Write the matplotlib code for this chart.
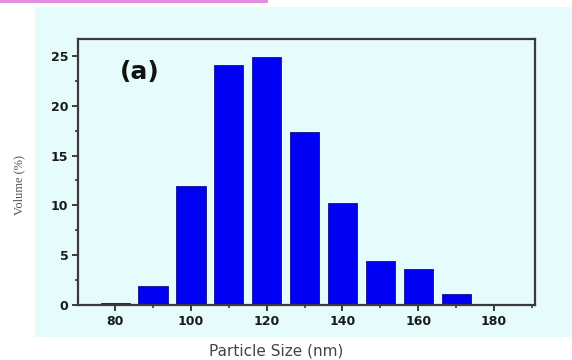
import matplotlib.pyplot as plt
from matplotlib.patches import Rectangle
from matplotlib.ticker import MultipleLocator

# particle size distribution (volume %)
sizes = [80, 90, 100, 110, 120, 130, 140, 150, 160, 170]
volume = [0.2, 1.9, 11.9, 24.1, 24.9, 17.4, 10.2, 4.4, 3.6, 1.1]
xticks = [80, 100, 120, 140, 160, 180]
yticks = [0, 5, 10, 15, 20, 25]

fig = plt.figure(figsize=(5.72, 3.6), dpi=100)
fig.patch.set_facecolor('white')

# light background panel behind the plot
fig.add_artist(Rectangle((35 / 572, 1 - 337 / 360), 1 - 35 / 572, 330 / 360,
                         transform=fig.transFigure, facecolor='#e6fbfb',
                         edgecolor='none', zorder=0))
# pink strip along the top
fig.add_artist(Rectangle((0, 1 - 3 / 360), 268 / 572, 3 / 360,
                         transform=fig.transFigure, facecolor='#e58ee0',
                         edgecolor='none', zorder=0))

ax = fig.add_axes([78 / 572, 1 - 305 / 360, (535 - 78) / 572, (305 - 39) / 360])
ax.set_facecolor('none')

ax.bar(sizes, volume, width=7.7, color='#0000f5', edgecolor='#10108a',
       linewidth=0.6, zorder=2)

ax.set_xlim(70.2, 190.8)
ax.set_ylim(0, 26.7)
ax.set_xticks(xticks)
ax.set_yticks(yticks)
ax.xaxis.set_minor_locator(MultipleLocator(10))
ax.yaxis.set_minor_locator(MultipleLocator(2.5))

for side in ['left', 'right', 'top', 'bottom']:
    ax.spines[side].set_color('#3a3a3a')
    ax.spines[side].set_linewidth(1.6)

ax.tick_params(which='major', direction='out', length=4, width=1.4,
               color='#3a3a3a', labelsize=9, pad=3)
ax.tick_params(which='minor', direction='out', length=2.5, width=1.2,
               color='#3a3a3a')
for lab in ax.get_xticklabels() + ax.get_yticklabels():
    lab.set_fontweight('bold')
    lab.set_family('DejaVu Sans')
    lab.set_color('#1a1a1a')

ax.text(81.3, 23.4, '(a)', fontsize=18, fontweight='heavy', va='center',
        family='DejaVu Sans', color='#111111')

fig.text(276 / 572, 1 - 351 / 360, 'Particle Size (nm)', ha='center',
         va='center', fontsize=11, family='DejaVu Sans', color='#444444')
fig.text(19 / 572, 1 - 185 / 360, 'Volume (%)', ha='center', va='center',
         rotation=90, fontsize=9, family='Liberation Serif', color='#555555')

fig.savefig('out.png', dpi=100)
